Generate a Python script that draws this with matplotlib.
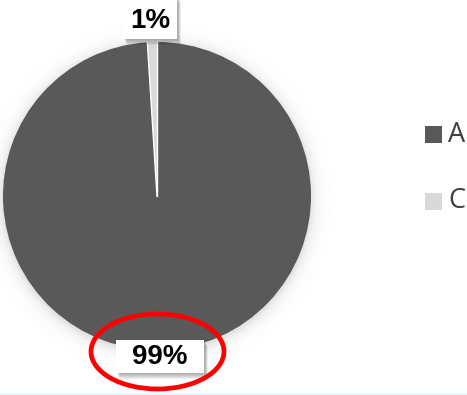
import matplotlib.pyplot as plt
import numpy as np
from matplotlib.patches import Ellipse, Rectangle

W, H = 467, 395

labels = ["A", "C"]
values = [99, 1]
colors = ["#595959", "#d9d9d9"]

fig = plt.figure(figsize=(W / 100, H / 100), dpi=100)
ax = fig.add_axes([0, 0, 1, 1])

cx, cy, r = 157, H - 196, 154

# soft glow around the pie
yy, xx = np.mgrid[0:H, 0:W]
d = np.hypot(xx + 0.5 - cx, (H - yy - 0.5) - (cy - 2))
glow = np.where(d > r, 0.2 * np.exp(-(d - r) / 6.0), 0.2)
img = np.zeros((H, W, 4))
img[..., :3] = 0.45
img[..., 3] = glow
ax.imshow(img, extent=(0, W, 0, H), origin="upper", zorder=0)

total = sum(values)
ax.pie(values, colors=colors, startangle=90, counterclock=False,
       center=(cx, cy), radius=r, frame=True,
       wedgeprops=dict(edgecolor="none"))

# white separators between slices
angle = 90.0
for v in values:
    t = np.deg2rad(angle)
    ax.plot([cx, cx + r * np.cos(t)], [cy, cy + r * np.sin(t)],
            color="white", linewidth=1.0, zorder=3)
    angle -= 360.0 * v / total

ax.set_xlim(0, W)
ax.set_ylim(0, H)
ax.set_aspect("equal")
ax.axis("off")


def label_box(x0, y0, w, h, text, ty):
    # shadow layers, then the white box
    for k in range(6):
        ax.add_patch(Rectangle((x0 + 1 + k * 0.6, H - y0 - h - 1 - k * 0.9),
                               w, h, facecolor="black", alpha=0.06,
                               edgecolor="none", zorder=4))
    ax.add_patch(Rectangle((x0, H - y0 - h), w, h, facecolor="white",
                           edgecolor="none", zorder=5))
    ax.text(x0 + w / 2, H - ty, text, ha="center", va="center",
            fontsize=20, fontweight="bold", family="Liberation Sans",
            color="black", zorder=6)


pcts = [f"{v / total * 100:.0f}%" for v in values]
label_box(116, 340, 88, 33, pcts[0], 357)
label_box(123, -4, 54, 43, pcts[1], 21.5)

# red highlight ring
ax.add_patch(Ellipse((157.5, H - 351.5), 133, 75, facecolor="none",
                     edgecolor="#ff0000", linewidth=3.4, zorder=7))

# legend
for i, (lab, col) in enumerate(zip(labels, colors)):
    ty = 134.5 + i * 66.5
    ax.add_patch(Rectangle((425, H - ty - 8.5), 17, 17, facecolor=col,
                           edgecolor="none", zorder=5))
    ax.text(448, H - ty, lab, ha="left", va="center", fontsize=19.5,
            family="Open Sans", color="#404040", zorder=5)

# thin strip along the bottom edge
ax.add_patch(Rectangle((0, 0), W, 2.5, facecolor="#e9f4fc",
                       edgecolor="none", zorder=8))

fig.savefig("out.png", dpi=100)
